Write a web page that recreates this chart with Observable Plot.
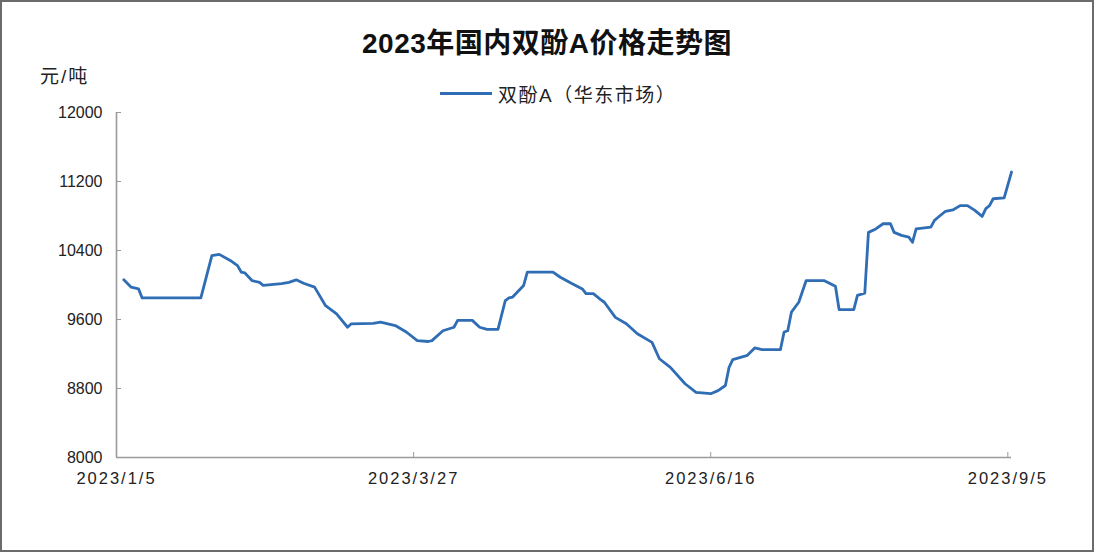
<!DOCTYPE html>
<html><head><meta charset="utf-8">
<script src="https://cdn.jsdelivr.net/npm/d3@7"></script>
<script src="https://cdn.jsdelivr.net/npm/@observablehq/plot@0.6"></script>
<style>
html,body{margin:0;padding:0;background:#fff;}
#frame{position:relative;width:1094px;height:552px;box-sizing:border-box;border:2px solid #6b6b6b;overflow:hidden;font-family:"Liberation Sans","Noto Sans CJK SC",sans-serif;background:#fff;}
#head{position:relative;height:98px;}
#title{position:absolute;left:0;right:0;top:19px;text-align:center;font-size:28px;font-weight:bold;color:#111;letter-spacing:0.5px;}
#unit{position:absolute;left:38px;top:59px;font-size:19px;color:#222;letter-spacing:2px;}
#legend{position:absolute;left:438px;top:78px;display:flex;align-items:center;font-size:19px;color:#222;letter-spacing:1.5px;}
#legend .sw{width:52px;height:3px;background:#2f6db5;margin-right:6px;}
#chart g[aria-label="x-axis tick label"] text{letter-spacing:2px;font-size:16.5px;}
</style></head>
<body>
<div id="frame">
  <div id="head">
    <div id="title">2023年国内双酚A价格走势图</div>
    <div id="unit">元/吨</div>
    <div id="legend"><span class="sw"></span><span>双酚A（华东市场）</span></div>
  </div>
  <div id="chart"></div>
</div>
<script>
const dates = ["1/7","1/9","1/11","1/12","1/28","1/31",
"2/2","2/5","2/7","2/8","2/9","2/11","2/13","2/14","2/19","2/21","2/23","2/25","2/28",
"3/3","3/6","3/9","3/10","3/16","3/18","3/22","3/25","3/28","3/31",
"4/1","4/4","4/7","4/8","4/12","4/14","4/16","4/19","4/21","4/22","4/23","4/26","4/27",
"5/4","5/6","5/9","5/12","5/13","5/15","5/17","5/18","5/21","5/24","5/27","5/31",
"6/2","6/5","6/9","6/12","6/16","6/18","6/20","6/21","6/22","6/26","6/28","6/30",
"7/5","7/6","7/7","7/8","7/10","7/12","7/17","7/20","7/21","7/25","7/26","7/28","7/29","7/31",
"8/2","8/4","8/5","8/7","8/9","8/10","8/11","8/15","8/16","8/17","8/19","8/21","8/23","8/25","8/27","8/29","8/30","8/31",
"9/1","9/4","9/6"];
const prices = [10060,9975,9955,9850,9850,10340,
10355,10285,10225,10150,10140,10050,10030,9995,10015,10030,10060,10020,9975,
9760,9665,9510,9550,9555,9570,9530,9455,9355,9345,
9355,9470,9510,9590,9590,9510,9485,9485,9820,9850,9860,9995,10150,
10150,10090,10020,9955,9900,9900,9830,9800,9625,9550,9435,9335,
9145,9045,8855,8755,8740,8775,8835,9045,9135,9185,9270,9250,
9250,9455,9470,9685,9800,10050,10050,9985,9715,9715,9880,9905,10610,10650,
10710,10710,10610,10575,10555,10495,10650,10670,10750,10785,10855,10870,10920,10920,10865,10795,10885,10920,
11000,11010,11310];
const xTickLabels = ["2023/1/5","2023/3/27","2023/6/16","2023/9/5"];
const yTicks = [8000,8800,9600,10400,11200,12000];
const seriesName = "双酚A（华东市场）";

const toDate = s => { const [y,m,d] = s.split("/").map(Number); return new Date(Date.UTC(y,m-1,d)); };
const data = dates.map((s,i) => ({date: toDate("2023/"+s), price: prices[i], series: seriesName}));
const xTicks = xTickLabels.map(toDate);
const x0 = toDate("2023/1/5"), x1 = toDate("2023/9/6");
const fmt = d => `${d.getUTCFullYear()}/${d.getUTCMonth()+1}/${d.getUTCDate()}`;
const font = '"Liberation Sans","Noto Sans CJK SC",sans-serif';
const axisColor = "#9a9a9a";

const chart = Plot.plot({
  width: 1090, height: 450,
  marginLeft: 114, marginRight: 81, marginTop: 12, marginBottom: 93,
  style: {fontFamily: font, fontSize: "16px", color: "#222", background: "transparent"},
  x: {type: "utc", domain: [x0, x1]},
  y: {domain: [8000, 12000]},
  marks: [
    Plot.ruleX([x0], {stroke: axisColor, strokeWidth: 1.6}),
    Plot.ruleY([8000], {stroke: axisColor, strokeWidth: 1.6}),
    Plot.axisY({ticks: yTicks, tickSize: 5, dx: 5, text: null, stroke: axisColor, label: null}),
    Plot.axisY({ticks: yTicks, tickSize: 0, tickPadding: 14, tickFormat: d => String(d), label: null, fill: "#222"}),
    Plot.axisX({ticks: xTicks, tickSize: 5, dy: -5, text: null, stroke: axisColor, label: null}),
    Plot.axisX({ticks: xTicks, tickSize: 0, tickPadding: 15, tickFormat: fmt, label: null, fill: "#222"}),
    Plot.line(data, {x: "date", y: "price", stroke: "#2f6db5", strokeWidth: 2.8, strokeLinejoin: "round", strokeLinecap: "round"})
  ]
});
document.getElementById("chart").appendChild(chart);
</script>
</body></html>
